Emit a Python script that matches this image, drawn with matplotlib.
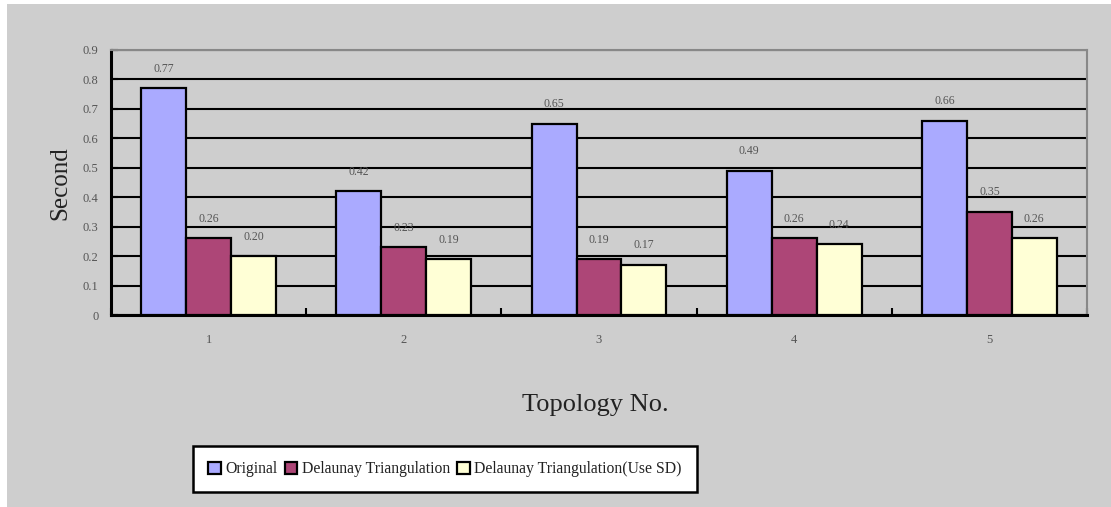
import matplotlib
matplotlib.use("Agg")
import matplotlib.pyplot as plt
import numpy as np
from matplotlib.patches import Rectangle

categories = ["1", "2", "3", "4", "5"]
original = [0.77, 0.42, 0.65, 0.49, 0.66]
delaunay = [0.26, 0.23, 0.19, 0.26, 0.35]
delaunay_sd = [0.20, 0.19, 0.17, 0.24, 0.26]
series_names = ["Original", "Delaunay Triangulation", "Delaunay Triangulation(Use SD)"]
colors = ["#aaaaff", "#ad4677", "#ffffd6"]
yticks = [0, 0.1, 0.2, 0.3, 0.4, 0.5, 0.6, 0.7, 0.8, 0.9]

plt.rcParams['font.family'] = ['Liberation Serif', 'DejaVu Serif']

W, H = 1111, 507
fig = plt.figure(figsize=(W / 100, H / 100), dpi=100, facecolor='white')
fig.patches.append(Rectangle((7 / W, 0), 1 - 7 / W, 1 - 4 / H, transform=fig.transFigure,
                             facecolor='#cecece', edgecolor='none', zorder=-10))

ax = fig.add_axes([111 / W, 1 - 315 / H, (1087 - 111) / W, (315 - 50) / H])
ax.set_facecolor('#cecece')

x = np.arange(len(categories))
w = 0.23
data = [original, delaunay, delaunay_sd]
bars_all = []
for k, (vals, c, name) in enumerate(zip(data, colors, series_names)):
    bars = ax.bar(x + (k - 1) * w, vals, w, color=c, edgecolor='black', linewidth=1.6,
                  label=name, zorder=3)
    bars_all.append(bars)
    for xi, v in zip(x + (k - 1) * w, vals):
        ax.annotate(f"{v:.2f}", (xi, v), xytext=(0, 14), textcoords='offset points',
                    ha='center', va='center', fontsize=8.5, color='#555555', zorder=4)

ax.set_xlim(-0.5, len(categories) - 0.5)
ax.set_ylim(0, 0.9)
ax.set_yticks(yticks)
ax.set_yticklabels([f"{t:g}" for t in yticks], fontsize=9, color='#555555')
ax.yaxis.grid(True, color='black', linewidth=1.5, zorder=1)
ax.set_axisbelow(True)
ax.tick_params(axis='y', direction='in', length=5, width=1.5, color='black', pad=9)

ax.set_xticks(x)
ax.set_xticklabels(categories, fontsize=9, color='#555555')
ax.tick_params(axis='x', which='major', length=0, pad=14)
ax.set_xticks(np.arange(len(categories) + 1) - 0.5, minor=True)
ax.tick_params(axis='x', which='minor', direction='in', length=5, width=1.5, color='black')

for s in ['left', 'bottom']:
    ax.spines[s].set_color('black')
    ax.spines[s].set_linewidth(2.2)
for s in ['top', 'right']:
    ax.spines[s].set_color('#888888')
    ax.spines[s].set_linewidth(1.5)

fig.text(60 / W, 1 - 183 / H, "Second", rotation=90, ha='center', va='center', fontsize=18, color='#222222')
fig.text(595 / W, 1 - 405 / H, "Topology No.", ha='center', va='center', fontsize=19, color='#222222')

leg = fig.legend(handles=bars_all, labels=series_names, loc='center',
                 bbox_to_anchor=(445 / W, 1 - 469 / H), ncol=3, fontsize=11.3,
                 frameon=True, fancybox=False, edgecolor='black', framealpha=1,
                 handlelength=0.8, handleheight=0.8, handletextpad=0.3,
                 columnspacing=0.45, borderpad=0.95, borderaxespad=0)
leg.get_frame().set_linewidth(1.8)
for t in leg.get_texts():
    t.set_color('#222222')

fig.savefig("out.png", dpi=100, facecolor=fig.get_facecolor())
